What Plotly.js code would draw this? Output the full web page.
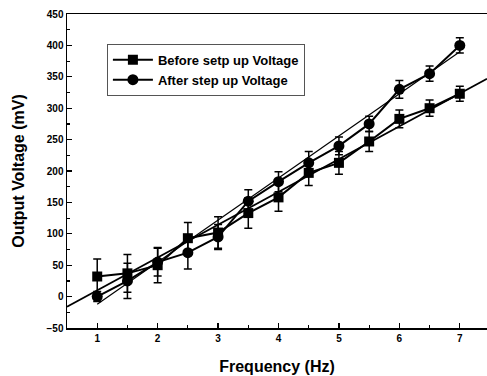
<!DOCTYPE html>
<html><head><meta charset="utf-8">
<script src="https://cdn.plot.ly/plotly-3.0.1.min.js"></script>
<style>html,body{margin:0;padding:0;background:#fff}#c{width:487px;height:376px}</style>
</head><body><div id="c"></div>
<script>
const freq = [1, 1.5, 2, 2.5, 3, 3.5, 4, 4.5, 5, 5.5, 6, 6.5, 7];
const before = [32, 37, 50, 93, 102, 133, 158, 197, 213, 247, 283, 300, 323];
const beforeErr = [28, 30, 28, 25, 25, 24, 22, 20, 18, 16, 14, 13, 12];
const after = [0, 25, 55, 70, 95, 152, 183, 213, 240, 275, 330, 355, 400];
const afterErr = [8, 28, 22, 26, 20, 18, 16, 18, 14, 12, 14, 12, 12];
const fitBeforeX = [0.5, 7.45];
const fitBeforeY = [-16, 347];
const fitAfterX = [1, 7];
const fitAfterY = [-12, 390];
const names = ["Before setp up Voltage", "After step up Voltage"];

const fnt = {family: "Liberation Sans, Arial, sans-serif", color: "#000"};
const traces = [
  {x: fitBeforeX, y: fitBeforeY, mode: "lines", line: {color: "#000", width: 1.8}, showlegend: false, hoverinfo: "skip"},
  {x: fitAfterX, y: fitAfterY, mode: "lines", line: {color: "#000", width: 1.2}, showlegend: false, hoverinfo: "skip"},
  {x: freq, y: before, name: names[0], mode: "lines+markers",
   line: {color: "#000", width: 2}, marker: {symbol: "square", size: 10, color: "#000"},
   error_y: {type: "data", array: beforeErr, color: "#000", thickness: 1.5, width: 4}},
  {x: freq, y: after, name: names[1], mode: "lines+markers",
   line: {color: "#000", width: 2}, marker: {symbol: "circle", size: 11, color: "#000"},
   error_y: {type: "data", array: afterErr, color: "#000", thickness: 1.5, width: 4}}
];
const layout = {
  width: 487, height: 376,
  margin: {l: 67, r: 0, t: 14, b: 48},
  paper_bgcolor: "#fff", plot_bgcolor: "#fff",
  font: fnt,
  xaxis: {range: [0.5, 7.45], tickvals: [1,2,3,4,5,6,7], ticks: "inside", ticklen: 5, tickwidth: 1.2,
    tickcolor: "#000", showline: true, linecolor: "#000", linewidth: 1.5, mirror: true, showgrid: false, zeroline: false,
    minor: {tickvals: [1.5,2.5,3.5,4.5,5.5,6.5], ticks: "inside", ticklen: 3, tickcolor: "#000"},
    tickfont: {family: fnt.family, size: 10, weight: "bold", color: "#000"},
    title: {text: "<b>Frequency (Hz)</b>", font: {family: fnt.family, size: 16, color: "#000"}, standoff: 18}},
  yaxis: {range: [-50, 450], dtick: 50, ticks: "inside", ticklen: 5, tickwidth: 1.2,
    tickcolor: "#000", showline: true, linecolor: "#000", linewidth: 1.5, showgrid: false, zeroline: false,
    minor: {dtick: 25, ticks: "inside", ticklen: 3, tickcolor: "#000"},
    tickfont: {family: fnt.family, size: 10, weight: "bold", color: "#000"},
    title: {text: "<b>Output Voltage (mV)</b>", font: {family: fnt.family, size: 16, color: "#000"}, standoff: 18}},
  legend: {x: 0.095, y: 0.905, xanchor: "left", yanchor: "top", bgcolor: "#fff", bordercolor: "#555", borderwidth: 1,
    font: {family: fnt.family, size: 13, weight: "bold", color: "#000"}, tracegroupgap: 0, itemwidth: 40},
  showlegend: true
};
Plotly.newPlot("c", traces, layout, {staticPlot: true});
</script></body></html>
